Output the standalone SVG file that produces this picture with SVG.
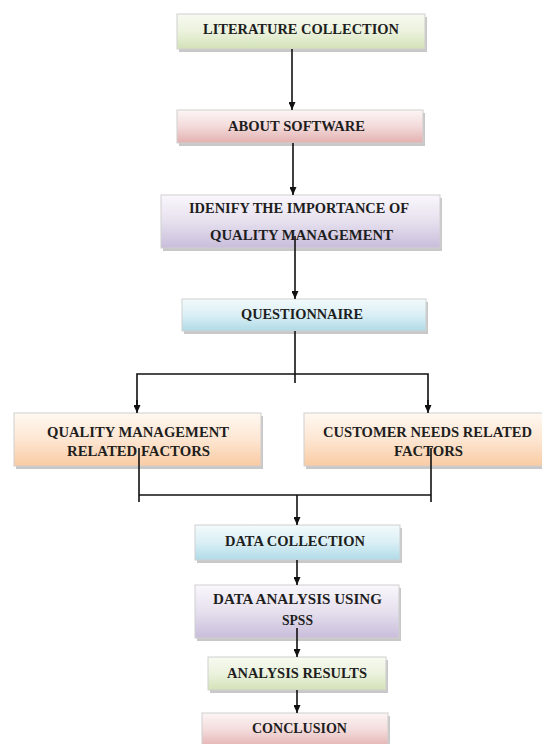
<svg xmlns="http://www.w3.org/2000/svg" width="542" height="744" viewBox="0 0 542 744">
<defs>
<linearGradient id="gGreen" x1="0" y1="0" x2="0" y2="1"><stop offset="0" stop-color="#f7faf1"/><stop offset="0.5" stop-color="#ebf2dd"/><stop offset="1" stop-color="#d3e2b8"/></linearGradient>
<linearGradient id="gRed" x1="0" y1="0" x2="0" y2="1"><stop offset="0" stop-color="#fdf5f5"/><stop offset="0.5" stop-color="#f3dada"/><stop offset="1" stop-color="#e2b0af"/></linearGradient>
<linearGradient id="gPurple" x1="0" y1="0" x2="0" y2="1"><stop offset="0" stop-color="#f9f7fc"/><stop offset="0.5" stop-color="#e6e0ee"/><stop offset="1" stop-color="#c9bddb"/></linearGradient>
<linearGradient id="gBlue" x1="0" y1="0" x2="0" y2="1"><stop offset="0" stop-color="#f3fafc"/><stop offset="0.5" stop-color="#daeff5"/><stop offset="1" stop-color="#b0dbe7"/></linearGradient>
<linearGradient id="gOrange" x1="0" y1="0" x2="0" y2="1"><stop offset="0" stop-color="#fff8f1"/><stop offset="0.5" stop-color="#fde6d2"/><stop offset="1" stop-color="#f9cba3"/></linearGradient>
<marker id="arr" viewBox="0 0 8 7" refX="8" refY="3.5" markerWidth="8" markerHeight="7" markerUnits="userSpaceOnUse" orient="auto"><path d="M0,0 L8,3.5 L0,7 Z" fill="#111"/></marker>
<style>
.shadow{fill:#9a9a9a;opacity:0.55}
.box{stroke:#cfcfcf;stroke-width:1}
.t{font-family:"Liberation Serif","Times New Roman",serif;font-weight:bold;font-size:15px;fill:#1e1e1e;text-anchor:middle}
.c{stroke:#111;stroke-width:1.6;fill:none}
</style>
</defs>
<rect width="542" height="744" fill="#ffffff"/>
<g id="n1">
<rect class="shadow" x="179" y="17" width="248" height="35"/>
<rect class="box" x="177" y="14" width="248" height="35" fill="url(#gGreen)"/>
<text class="t" x="301" y="34" textLength="196" lengthAdjust="spacingAndGlyphs">LITERATURE COLLECTION</text>
</g>
<g id="n2">
<rect class="shadow" x="179" y="113" width="246" height="33"/>
<rect class="box" x="177" y="110" width="246" height="33" fill="url(#gRed)"/>
<text class="t" x="296.5" y="131" textLength="137" lengthAdjust="spacingAndGlyphs">ABOUT SOFTWARE</text>
</g>
<g id="n3">
<rect class="shadow" x="163" y="198" width="279" height="53"/>
<rect class="box" x="161" y="195" width="279" height="53" fill="url(#gPurple)"/>
<text class="t" x="299" y="213" textLength="220" lengthAdjust="spacingAndGlyphs">IDENIFY THE IMPORTANCE OF</text>
<text class="t" x="301.5" y="240" textLength="183" lengthAdjust="spacingAndGlyphs">QUALITY MANAGEMENT</text>
</g>
<g id="n4">
<rect class="shadow" x="184" y="302" width="244" height="32"/>
<rect class="box" x="182" y="299" width="244" height="32" fill="url(#gBlue)"/>
<text class="t" x="302" y="319" textLength="122" lengthAdjust="spacingAndGlyphs">QUESTIONNAIRE</text>
</g>
<g id="n5">
<rect class="shadow" x="16" y="416" width="247" height="53"/>
<rect class="box" x="14" y="413" width="247" height="53" fill="url(#gOrange)"/>
<text class="t" x="138" y="437" textLength="182" lengthAdjust="spacingAndGlyphs">QUALITY MANAGEMENT</text>
<text class="t" x="138.5" y="456" textLength="143" lengthAdjust="spacingAndGlyphs">RELATED FACTORS</text>
</g>
<g id="n6">
<rect class="shadow" x="306" y="416" width="250" height="53"/>
<rect class="box" x="304" y="413" width="250" height="53" fill="url(#gOrange)"/>
<text class="t" x="427.5" y="437" textLength="209" lengthAdjust="spacingAndGlyphs">CUSTOMER NEEDS RELATED</text>
<text class="t" x="428.5" y="456" textLength="69" lengthAdjust="spacingAndGlyphs">FACTORS</text>
</g>
<g id="n7">
<rect class="shadow" x="197" y="528" width="205" height="35"/>
<rect class="box" x="195" y="525" width="205" height="35" fill="url(#gBlue)"/>
<text class="t" x="295" y="546" textLength="140" lengthAdjust="spacingAndGlyphs">DATA COLLECTION</text>
</g>
<g id="n8">
<rect class="shadow" x="197" y="588" width="204" height="53"/>
<rect class="box" x="195" y="585" width="204" height="53" fill="url(#gPurple)"/>
<text class="t" x="297.5" y="604" textLength="169" lengthAdjust="spacingAndGlyphs">DATA ANALYSIS USING</text>
<text class="t" x="297.5" y="625" textLength="31" lengthAdjust="spacingAndGlyphs">SPSS</text>
</g>
<g id="n9">
<rect class="shadow" x="210" y="660" width="178" height="33"/>
<rect class="box" x="208" y="657" width="178" height="33" fill="url(#gGreen)"/>
<text class="t" x="297" y="678" textLength="140" lengthAdjust="spacingAndGlyphs">ANALYSIS RESULTS</text>
</g>
<g id="n10">
<rect class="shadow" x="204" y="716" width="186" height="35"/>
<rect class="box" x="202" y="713" width="186" height="35" fill="url(#gRed)"/>
<text class="t" x="299.5" y="733" textLength="95" lengthAdjust="spacingAndGlyphs">CONCLUSION</text>
</g>
<g id="connectors">
<line class="c" x1="292" y1="49" x2="292" y2="110" marker-end="url(#arr)"/>
<line class="c" x1="293" y1="143" x2="293" y2="195" marker-end="url(#arr)"/>
<line class="c" x1="295" y1="236" x2="295" y2="299" marker-end="url(#arr)"/>
<line class="c" x1="295" y1="331" x2="295" y2="383"/>
<polyline class="c" points="137,406 137,374 428,374 428,406"/>
<line class="c" x1="137" y1="400" x2="137" y2="413" marker-end="url(#arr)"/>
<line class="c" x1="428" y1="400" x2="428" y2="413" marker-end="url(#arr)"/>
<line class="c" x1="139" y1="448" x2="139" y2="502"/>
<line class="c" x1="431" y1="448" x2="431" y2="502"/>
<line class="c" x1="139" y1="495" x2="431" y2="495"/>
<line class="c" x1="297" y1="495" x2="297" y2="525" marker-end="url(#arr)"/>
<line class="c" x1="297" y1="560" x2="297" y2="585" marker-end="url(#arr)"/>
<line class="c" x1="297" y1="628" x2="297" y2="657" marker-end="url(#arr)"/>
<line class="c" x1="297" y1="690" x2="297" y2="713" marker-end="url(#arr)"/>
</g>
</svg>
